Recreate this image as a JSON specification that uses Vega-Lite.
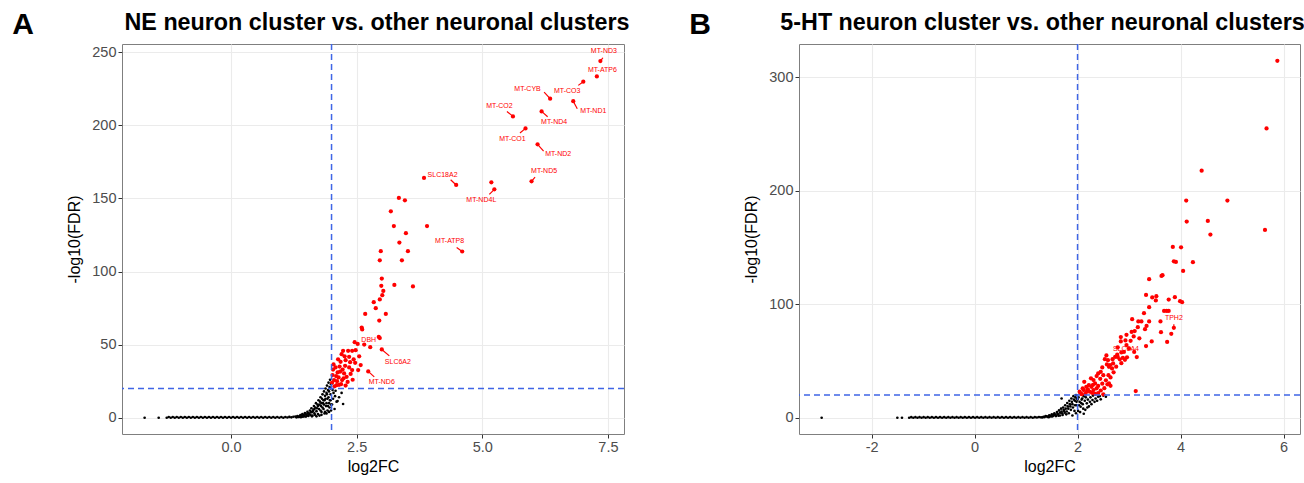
{
"$schema": "https://vega.github.io/schema/vega-lite/v6.json",
"background": "white",
"padding": {"left": 12, "top": 10, "right": 0, "bottom": 0},
"spacing": 59,
"config": {
  "font": "Liberation Sans",
  "view": {"stroke": "#7f7f7f", "strokeWidth": 1},
  "axis": {"grid": true, "gridColor": "#ebebeb", "gridWidth": 1.1, "domain": false, "tickColor": "#333333", "tickSize": 4, "tickWidth": 1, "labelFont": "Liberation Sans", "labelFontSize": 14.5, "labelColor": "#4d4d4d", "labelPadding": 2, "titleFont": "Liberation Sans", "titleFontSize": 16, "titleFontWeight": "normal", "titleColor": "black"},
  "axisX": {"titlePadding": 5},
  "axisY": {"titlePadding": 9}
},
"datasets": {
  "aBlack": [
    {"x":-1.72,"y":0},{"x":-1.44,"y":0},{"x":-1.28,"y":0},{"x":-1.24,"y":0.5},{"x":-1.2,"y":0},{"x":-1.16,"y":0.5},{"x":-1.12,"y":0},{"x":-1.08,"y":0.5},{"x":-1.04,"y":0},{"x":-1,"y":0.5},{"x":-0.96,"y":0},{"x":-0.92,"y":0.5},{"x":-0.88,"y":0},{"x":-0.84,"y":0.5},{"x":-0.8,"y":0},{"x":-0.76,"y":0.5},{"x":-0.72,"y":0},{"x":-0.68,"y":0.5},{"x":-0.64,"y":0},{"x":-0.6,"y":0.5},{"x":-0.56,"y":0},{"x":-0.52,"y":0.5},{"x":-0.48,"y":0},{"x":-0.44,"y":0.5},{"x":-0.4,"y":0},{"x":-0.36,"y":0.5},{"x":-0.32,"y":0},{"x":-0.28,"y":0.5},{"x":-0.24,"y":0},{"x":-0.2,"y":0.5},{"x":-0.16,"y":0},{"x":-0.12,"y":0.5},{"x":-0.08,"y":0},{"x":-0.04,"y":0.5},{"x":0,"y":0},{"x":0.04,"y":0.5},{"x":0.08,"y":0},{"x":0.12,"y":0.5},{"x":0.16,"y":0},{"x":0.2,"y":0.5},{"x":0.24,"y":0},{"x":0.28,"y":0.5},{"x":0.32,"y":0},{"x":0.36,"y":0.5},{"x":0.4,"y":0},{"x":0.44,"y":0.5},{"x":0.48,"y":0},{"x":0.52,"y":0.5},{"x":0.56,"y":0},{"x":0.6,"y":0.5},{"x":0.64,"y":0},{"x":0.68,"y":0.5},{"x":0.72,"y":0},{"x":0.76,"y":0.5},{"x":0.8,"y":0},{"x":0.84,"y":0.5},{"x":0.88,"y":0},{"x":0.92,"y":0.5},{"x":0.96,"y":0},{"x":1,"y":0.5},{"x":1.04,"y":0},{"x":1.08,"y":0.5},{"x":1.12,"y":0.2},{"x":1.16,"y":0.6},{"x":1.2,"y":0.3},{"x":1.24,"y":0.7},
    {"x":1.28,"y":0.8},{"x":1.32,"y":1.2},{"x":1.35,"y":0.5},{"x":1.38,"y":1.8},{"x":1.4,"y":0.9},{"x":1.42,"y":2.5},{"x":1.45,"y":1.5},{"x":1.47,"y":3.2},{"x":1.49,"y":0.8},{"x":1.5,"y":2.2},{"x":1.52,"y":4},{"x":1.54,"y":1.2},{"x":1.55,"y":3},{"x":1.57,"y":5},{"x":1.58,"y":2},{"x":1.6,"y":6.5},{"x":1.61,"y":3.8},{"x":1.62,"y":1.5},{"x":1.64,"y":5.5},{"x":1.65,"y":8},{"x":1.66,"y":3},{"x":1.68,"y":7},{"x":1.69,"y":10},{"x":1.7,"y":4.5},{"x":1.72,"y":9},{"x":1.73,"y":2.5},{"x":1.74,"y":12},{"x":1.75,"y":6},{"x":1.77,"y":11},{"x":1.78,"y":14},{"x":1.79,"y":8},{"x":1.8,"y":4},{"x":1.81,"y":13},{"x":1.82,"y":16},{"x":1.83,"y":10},{"x":1.84,"y":6},{"x":1.85,"y":18},{"x":1.86,"y":12},{"x":1.87,"y":15},{"x":1.88,"y":20},{"x":1.89,"y":8},{"x":1.9,"y":17},{"x":1.91,"y":22},{"x":1.92,"y":13},{"x":1.93,"y":19},{"x":1.94,"y":24},{"x":1.95,"y":10},{"x":1.96,"y":21},{"x":1.97,"y":26},{"x":1.98,"y":16},{"x":1.99,"y":23},{"x":1.86,"y":3},{"x":1.92,"y":5},{"x":1.76,"y":1.5},{"x":1.96,"y":7},{"x":1.98,"y":12},
    {"x":1.3,"y":0.3},{"x":1.33,"y":0.6},{"x":1.36,"y":1},{"x":1.39,"y":0.4},{"x":1.41,"y":1.6},{"x":1.43,"y":0.7},{"x":1.44,"y":2},{"x":1.46,"y":1},{"x":1.48,"y":2.6},{"x":1.51,"y":1.5},{"x":1.53,"y":3},{"x":1.56,"y":2.4},{"x":1.59,"y":4},{"x":1.61,"y":1},{"x":1.63,"y":4.5},{"x":1.66,"y":6},{"x":1.67,"y":2},{"x":1.71,"y":6.5},{"x":1.73,"y":8},{"x":1.76,"y":9},{"x":1.78,"y":5},{"x":1.8,"y":10},{"x":1.82,"y":7},{"x":1.84,"y":12},{"x":1.85,"y":9},{"x":1.87,"y":4},{"x":1.88,"y":13},{"x":1.9,"y":10},{"x":1.91,"y":16},{"x":1.93,"y":8},{"x":1.94,"y":14},{"x":1.95,"y":18},{"x":1.97,"y":12},{"x":1.98,"y":20},{"x":1.99,"y":9},{"x":1.7,"y":1},{"x":1.8,"y":2},{"x":1.9,"y":3},{"x":1.95,"y":4},{"x":1.99,"y":5},
    {"x":2.07,"y":14.8},{"x":2.1,"y":11},{"x":2.23,"y":9.4},{"x":2.12,"y":11.4},{"x":2.01,"y":9.1},{"x":2.04,"y":17},{"x":2.02,"y":19},{"x":2.06,"y":6},{"x":2.15,"y":14},{"x":2.08,"y":18.5},{"x":2.2,"y":17},{"x":2.03,"y":13}
  ],
  "aRed": [
    {"x":7.35,"y":243.9},{"x":7.28,"y":233.4},{"x":7.01,"y":229.8},{"x":6.35,"y":218.2},{"x":6.81,"y":216.5},{"x":5.61,"y":206.1},{"x":6.18,"y":209.5},{"x":5.86,"y":197.9},{"x":6.1,"y":187},{"x":5.98,"y":161.7},{"x":4.48,"y":159.2},{"x":5.24,"y":156.2},{"x":4.6,"y":113.7},{"x":2.65,"y":50.1},{"x":3,"y":46.7},{"x":2.73,"y":31.7},
    {"x":3.84,"y":164},{"x":5.18,"y":161},{"x":3.34,"y":150.3},{"x":3.46,"y":148.7},{"x":3.18,"y":141.2},{"x":3.24,"y":131.1},{"x":3.9,"y":131.1},{"x":3.48,"y":126.2},{"x":3.35,"y":119.8},{"x":2.98,"y":113.9},{"x":3.52,"y":113.9},{"x":2.96,"y":107.7},{"x":3.4,"y":107.7},{"x":3,"y":95.2},{"x":3.25,"y":90.8},{"x":3.62,"y":89.8},{"x":2.99,"y":90.2},{"x":3.03,"y":86.7},{"x":3.01,"y":83.8},{"x":2.96,"y":80.9},{"x":2.84,"y":79},{"x":2.67,"y":71},{"x":2.88,"y":74.9},{"x":3.08,"y":71},{"x":2.95,"y":66.5},{"x":2.6,"y":61.7},{"x":2.61,"y":60.4},{"x":2.46,"y":51.7},{"x":2.52,"y":50.5},{"x":2.77,"y":48.3},{"x":2.94,"y":55.3},{"x":2.96,"y":54.5},{"x":2.23,"y":45.8},{"x":2.33,"y":45.8},{"x":2.41,"y":45.8},{"x":2.48,"y":46.2},{"x":2.35,"y":41.7},{"x":2.28,"y":39.4},{"x":2.18,"y":38.3},{"x":2.08,"y":34.4},{"x":2.35,"y":34.4},{"x":2.41,"y":32.6},{"x":2.53,"y":32.6},{"x":2.47,"y":37.6},{"x":2.02,"y":29.2},{"x":2.05,"y":25.8},{"x":2.1,"y":22.3},{"x":2.14,"y":27.6},{"x":2.25,"y":30.3},{"x":2.21,"y":25.8},{"x":2.12,"y":31},{"x":2.3,"y":28},{"x":2.38,"y":30},{"x":2.16,"y":35},{"x":2.22,"y":33},{"x":2.06,"y":21.5},{"x":2.01,"y":24},{"x":2.19,"y":23},{"x":2.28,"y":22},{"x":2.42,"y":26},{"x":2.44,"y":40},{"x":2.26,"y":42},{"x":2.55,"y":42},{"x":2.58,"y":36},{"x":2.13,"y":40},{"x":2.03,"y":33},
    {"x":2.04,"y":36.5},{"x":2.09,"y":28.5},{"x":2.17,"y":31.5},{"x":2.27,"y":35.5},{"x":2.32,"y":24.5},{"x":2.37,"y":38},{"x":2.2,"y":43.5},{"x":2.11,"y":25},{"x":2.15,"y":22.5},{"x":2.24,"y":27}
  ],
  "aLab": [
    {"gene":"MT-ND3","lx":7.42,"ly":250.5,"x":7.35,"y":243.9,"sx":7.4,"sy":246.2},
    {"gene":"MT-ATP6","lx":7.39,"ly":238,"x":7.28,"y":233.4},
    {"gene":"MT-CO3","lx":6.69,"ly":223.2,"x":7.01,"y":229.8,"sx":6.91,"sy":227.3},
    {"gene":"MT-CYB","lx":5.9,"ly":224.5,"x":6.35,"y":218.2,"sx":6.23,"sy":222.7},
    {"gene":"MT-ND1","lx":7.21,"ly":209.5,"x":6.81,"y":216.5,"sx":6.89,"sy":211.3},
    {"gene":"MT-CO2","lx":5.34,"ly":213.1,"x":5.61,"y":206.1,"sx":5.49,"sy":209.5},
    {"gene":"MT-ND4","lx":6.43,"ly":202,"x":6.18,"y":209.5,"sx":6.3,"sy":205.9},
    {"gene":"MT-CO1","lx":5.6,"ly":190.8,"x":5.86,"y":197.9,"sx":5.75,"sy":194.7},
    {"gene":"MT-ND2","lx":6.51,"ly":180.6,"x":6.1,"y":187,"sx":6.22,"sy":182.4},
    {"gene":"MT-ND5","lx":6.23,"ly":168.7,"x":5.98,"y":161.7,"sx":6.05,"sy":164.6},
    {"gene":"SLC18A2","lx":4.21,"ly":166,"x":4.48,"y":159.2,"sx":4.37,"sy":162.8},
    {"gene":"MT-ND4L","lx":4.98,"ly":149.2,"x":5.24,"y":156.2,"sx":5.14,"sy":152.8},
    {"gene":"MT-ATP8","lx":4.35,"ly":120.9,"x":4.6,"y":113.7,"sx":4.49,"sy":116.4},
    {"gene":"DBH","lx":2.74,"ly":52.9,"x":2.65,"y":50.1},
    {"gene":"SLC6A2","lx":3.32,"ly":38,"x":3,"y":46.7,"sx":3.15,"sy":42.3},
    {"gene":"MT-ND6","lx":3,"ly":24.2,"x":2.73,"y":31.7,"sx":2.85,"sy":28}
  ],
  "bBlack": [
    {"x":-2.97,"y":0},{"x":-1.5,"y":0},{"x":-1.41,"y":0},{"x":-1.27,"y":0},{"x":-1.23,"y":0.5},{"x":-1.19,"y":0},{"x":-1.15,"y":0.5},{"x":-1.11,"y":0},{"x":-1.07,"y":0.5},{"x":-1.03,"y":0},{"x":-0.99,"y":0.5},{"x":-0.95,"y":0},{"x":-0.91,"y":0.5},{"x":-0.87,"y":0},{"x":-0.83,"y":0.5},{"x":-0.79,"y":0},{"x":-0.75,"y":0.5},{"x":-0.71,"y":0},{"x":-0.67,"y":0.5},{"x":-0.63,"y":0},{"x":-0.59,"y":0.5},{"x":-0.55,"y":0},{"x":-0.51,"y":0.5},{"x":-0.47,"y":0},{"x":-0.43,"y":0.5},{"x":-0.39,"y":0},{"x":-0.35,"y":0.5},{"x":-0.31,"y":0},{"x":-0.27,"y":0.5},{"x":-0.23,"y":0},{"x":-0.19,"y":0.5},{"x":-0.15,"y":0},{"x":-0.11,"y":0.5},{"x":-0.07,"y":0},{"x":-0.03,"y":0.5},{"x":0.01,"y":0},{"x":0.05,"y":0.5},{"x":0.09,"y":0},{"x":0.13,"y":0.5},{"x":0.17,"y":0},{"x":0.21,"y":0.5},{"x":0.25,"y":0},{"x":0.29,"y":0.5},{"x":0.33,"y":0},{"x":0.37,"y":0.5},{"x":0.41,"y":0},{"x":0.45,"y":0.5},{"x":0.49,"y":0},{"x":0.53,"y":0.5},{"x":0.57,"y":0},{"x":0.61,"y":0.5},{"x":0.65,"y":0},{"x":0.69,"y":0.5},{"x":0.73,"y":0},{"x":0.77,"y":0.5},{"x":0.81,"y":0},{"x":0.85,"y":0.5},{"x":0.89,"y":0},{"x":0.93,"y":0.5},{"x":0.97,"y":0},{"x":1.01,"y":0.5},{"x":1.05,"y":0},{"x":1.09,"y":0.5},{"x":1.13,"y":0},{"x":1.17,"y":0.5},{"x":1.21,"y":0.2},{"x":1.25,"y":0.6},{"x":1.29,"y":0.4},
    {"x":1.34,"y":0.9},{"x":1.38,"y":1.5},{"x":1.42,"y":0.8},{"x":1.45,"y":2.2},{"x":1.48,"y":1.2},{"x":1.5,"y":3},{"x":1.53,"y":1.8},{"x":1.55,"y":4},{"x":1.57,"y":2.5},{"x":1.6,"y":5},{"x":1.62,"y":3},{"x":1.64,"y":6.5},{"x":1.66,"y":2},{"x":1.68,"y":8},{"x":1.69,"y":17},{"x":1.7,"y":4},{"x":1.72,"y":9},{"x":1.74,"y":6},{"x":1.76,"y":11},{"x":1.78,"y":3},{"x":1.8,"y":13},{"x":1.82,"y":8},{"x":1.84,"y":15},{"x":1.86,"y":10},{"x":1.88,"y":17},{"x":1.9,"y":12},{"x":1.92,"y":19},{"x":1.94,"y":6},{"x":1.95,"y":15},{"x":1.97,"y":20},{"x":1.98,"y":11},{"x":1.99,"y":17},
    {"x":1.32,"y":0.3},{"x":1.36,"y":0.6},{"x":1.4,"y":1.2},{"x":1.44,"y":0.5},{"x":1.47,"y":1.8},{"x":1.51,"y":1.2},{"x":1.54,"y":2.5},{"x":1.58,"y":1.5},{"x":1.61,"y":3.5},{"x":1.63,"y":1.8},{"x":1.66,"y":4.5},{"x":1.69,"y":5.5},{"x":1.71,"y":2.5},{"x":1.73,"y":7},{"x":1.75,"y":4.5},{"x":1.77,"y":8},{"x":1.79,"y":5.5},{"x":1.81,"y":10},{"x":1.83,"y":4},{"x":1.85,"y":12},{"x":1.87,"y":7},{"x":1.89,"y":14},{"x":1.91,"y":9},{"x":1.93,"y":16},{"x":1.95,"y":11},{"x":1.96,"y":18},{"x":1.98,"y":14},{"x":2,"y":16},{"x":2.03,"y":11},{"x":2.07,"y":13},{"x":2.09,"y":17},{"x":2.11,"y":8},{"x":2.14,"y":15},{"x":2.16,"y":18},{"x":2.19,"y":9},{"x":2.24,"y":14},{"x":2.27,"y":12},{"x":2.33,"y":14},{"x":2.38,"y":15},{"x":2.43,"y":19},{"x":2.55,"y":18.5},{"x":1.9,"y":2},{"x":1.97,"y":4},{"x":2.01,"y":6},
    {"x":2.02,"y":18},{"x":2.04,"y":14},{"x":2.06,"y":9.7},{"x":2.08,"y":16},{"x":2.1,"y":12},{"x":2.12,"y":19},{"x":2.15,"y":7},{"x":2.18,"y":12.7},{"x":2.2,"y":16},{"x":2.25,"y":18},{"x":2.29,"y":15.6},{"x":2.35,"y":17},{"x":2.45,"y":16.2},{"x":2.5,"y":19.5},{"x":2.05,"y":5},{"x":2.12,"y":3.5},{"x":2.22,"y":10},{"x":2.3,"y":19.5},{"x":2.4,"y":18.6}
  ],
  "bRed": [
    {"x":5.88,"y":314.3},{"x":5.67,"y":254.8},{"x":4.41,"y":217.6},{"x":4.11,"y":191.2},{"x":4.91,"y":191.2},{"x":4.12,"y":172.7},{"x":4.53,"y":173.3},{"x":4.58,"y":161.3},{"x":5.64,"y":165.4},{"x":3.85,"y":150.4},{"x":4.01,"y":150.1},{"x":3.87,"y":137.8},{"x":3.91,"y":137.2},{"x":4.24,"y":137},{"x":4.05,"y":129.3},{"x":3.63,"y":124.9},{"x":3.65,"y":125.5},{"x":3.39,"y":122},{"x":3.33,"y":108.2},{"x":3.45,"y":105.9},{"x":3.53,"y":107},{"x":3.52,"y":103.3},{"x":3.39,"y":97.4},{"x":3.77,"y":104.1},{"x":3.89,"y":106.2},{"x":3.99,"y":102.6},{"x":4.03,"y":101.8},{"x":3.68,"y":94.1},{"x":3.73,"y":94.1},{"x":3.77,"y":94.1},{"x":3.29,"y":92.1},{"x":3.06,"y":86.8},{"x":3.18,"y":84.8},{"x":3.24,"y":84.8},{"x":3.39,"y":84.8},{"x":3.34,"y":80.9},{"x":3.31,"y":78},{"x":3.61,"y":84.8},{"x":3.62,"y":75.4},{"x":3.82,"y":73.9},{"x":3.87,"y":79.2},{"x":3.17,"y":79.8},{"x":3.11,"y":76.3},{"x":3.05,"y":75.6},{"x":2.95,"y":73},{"x":3.09,"y":71.6},{"x":2.84,"y":71},{"x":2.84,"y":67.2},{"x":2.93,"y":68.1},{"x":3.03,"y":67.7},{"x":3.44,"y":67.2},{"x":3.74,"y":66.8},{"x":3.33,"y":63.1},{"x":2.85,"y":57.5},{"x":2.73,"y":53.6},{"x":2.78,"y":53.6},{"x":2.82,"y":51.5},{"x":2.88,"y":52.8},{"x":2.92,"y":51},{"x":2.96,"y":53.2},{"x":2.77,"y":55.5},{"x":3.15,"y":53.4},{"x":2.56,"y":54.9},{"x":2.53,"y":51.6},{"x":2.59,"y":50.7},{"x":2.57,"y":47},{"x":2.63,"y":46.3},{"x":2.67,"y":43.4},{"x":2.61,"y":44.9},{"x":2.69,"y":47.8},{"x":2.68,"y":51.6},{"x":2.48,"y":44.3},{"x":2.45,"y":40.5},{"x":2.5,"y":37.5},{"x":2.6,"y":37.5},{"x":2.64,"y":35.5},{"x":2.61,"y":30.2},{"x":2.64,"y":28.1},{"x":2.58,"y":29.4},{"x":2.26,"y":34.7},{"x":2.31,"y":33.2},{"x":2.37,"y":36.7},{"x":2.4,"y":39},{"x":2.44,"y":34.3},{"x":2.34,"y":30.2},{"x":2.27,"y":27.3},{"x":2.22,"y":28.8},{"x":2.13,"y":31.7},{"x":2.17,"y":27.3},{"x":2.1,"y":25.9},{"x":2.12,"y":24.4},{"x":2.2,"y":25},{"x":2.24,"y":22.9},{"x":2.18,"y":22.9},{"x":2.31,"y":24.4},{"x":2.37,"y":25.9},{"x":3.13,"y":23.5},{"x":2.34,"y":21},{"x":2.4,"y":21.8},{"x":2.5,"y":20.6},{"x":2.06,"y":21.5},{"x":2.04,"y":23},{"x":2.08,"y":20.8},{"x":2.15,"y":21},{"x":2.28,"y":22},{"x":2.45,"y":24},{"x":2.52,"y":26},{"x":2.48,"y":30},{"x":2.55,"y":33},{"x":2.4,"y":28},{"x":2.3,"y":29},{"x":2.7,"y":40},{"x":2.75,"y":45},{"x":2.85,"y":48},{"x":2.9,"y":58},{"x":2.95,"y":64},{"x":3,"y":61},{"x":3.1,"y":58},{"x":2.78,"y":62},{"x":3.2,"y":70}
  ],
  "bLab": [
    {"gene":"TPH2","lx":3.87,"ly":88,"x":3.87,"y":79.2,"sx":3.87,"sy":82.4},
    {"gene":"SLC6A4","lx":2.94,"ly":60.7,"x":2.85,"y":57.5}
  ]
},
"hconcat": [
  {
    "title": {"text": "A", "anchor": "start", "frame": "bounds", "fontSize": 30, "fontWeight": "bold", "color": "black", "dx": -54, "dy": -2, "offset": -32},
    "hconcat": [
      {
        "width": 502, "height": 390,
        "title": {"text": "NE neuron cluster vs. other neuronal clusters", "anchor": "middle", "frame": "group", "fontSize": 23.3, "fontWeight": "bold", "color": "black", "offset": 8, "dx": 4},
        "encoding": {
          "x": {"field": "x", "type": "quantitative", "title": "log2FC", "scale": {"domain": [-2.17, 7.82], "nice": false, "zero": false}, "axis": {"values": [0, 2.5, 5, 7.5], "format": ".1f"}},
          "y": {"field": "y", "type": "quantitative", "title": "-log10(FDR)", "scale": {"domain": [-11.1, 255.6], "nice": false, "zero": false}, "axis": {"values": [0, 50, 100, 150, 200, 250]}}
        },
        "layer": [
          {"data": {"name": "aBlack"}, "mark": {"type": "circle", "color": "black", "size": 7, "opacity": 1}},
          {"data": {"name": "aRed"}, "mark": {"type": "circle", "color": "#ff0000", "size": 18, "opacity": 1}},
          {"data": {"values": [{"t": 20}]}, "mark": {"type": "rule", "color": "#3f66e6", "strokeDash": [6, 4], "strokeWidth": 1.5}, "encoding": {"x": null, "y": {"field": "t", "type": "quantitative"}}},
          {"data": {"values": [{"t": 2}]}, "mark": {"type": "rule", "color": "#3f66e6", "strokeDash": [6, 4], "strokeWidth": 1.5}, "encoding": {"y": null, "x": {"field": "t", "type": "quantitative"}}},
          {"data": {"name": "aLab"}, "transform": [{"filter": "isValid(datum.sx)"}], "mark": {"type": "rule", "color": "#ff0000", "strokeWidth": 1.2}, "encoding": {"x2": {"field": "sx"}, "y2": {"field": "sy"}}},
          {"data": {"name": "aLab"}, "mark": {"type": "text", "color": "#ff0000", "fontSize": 7, "font": "Liberation Sans"}, "encoding": {"x": {"field": "lx", "type": "quantitative"}, "y": {"field": "ly", "type": "quantitative"}, "text": {"field": "gene"}}}
        ]
      }
    ]
  },
  {
    "title": {"text": "B", "anchor": "start", "frame": "bounds", "fontSize": 30, "fontWeight": "bold", "color": "black", "dx": -54, "dy": -2, "offset": -32},
    "hconcat": [
      {
        "width": 501, "height": 390,
        "title": {"text": "5-HT neuron cluster vs. other neuronal clusters", "anchor": "middle", "frame": "group", "fontSize": 23.3, "fontWeight": "bold", "color": "black", "offset": 8, "dx": -7},
        "encoding": {
          "x": {"field": "x", "type": "quantitative", "title": "log2FC", "scale": {"domain": [-3.41, 6.32], "nice": false, "zero": false}, "axis": {"values": [-2, 0, 2, 4, 6], "labelExpr": "'' + datum.value"}},
          "y": {"field": "y", "type": "quantitative", "title": "-log10(FDR)", "scale": {"domain": [-14.3, 329.1], "nice": false, "zero": false}, "axis": {"values": [0, 100, 200, 300]}}
        },
        "layer": [
          {"data": {"name": "bBlack"}, "mark": {"type": "circle", "color": "black", "size": 7, "opacity": 1}},
          {"data": {"name": "bRed"}, "mark": {"type": "circle", "color": "#ff0000", "size": 18, "opacity": 1}},
          {"data": {"values": [{"t": 20}]}, "mark": {"type": "rule", "color": "#3f66e6", "strokeDash": [6, 4], "strokeWidth": 1.5}, "encoding": {"x": null, "y": {"field": "t", "type": "quantitative"}}},
          {"data": {"values": [{"t": 2}]}, "mark": {"type": "rule", "color": "#3f66e6", "strokeDash": [6, 4], "strokeWidth": 1.5}, "encoding": {"y": null, "x": {"field": "t", "type": "quantitative"}}},
          {"data": {"name": "bLab"}, "transform": [{"filter": "isValid(datum.sx)"}], "mark": {"type": "rule", "color": "#ff0000", "strokeWidth": 1.2}, "encoding": {"x2": {"field": "sx"}, "y2": {"field": "sy"}}},
          {"data": {"name": "bLab"}, "mark": {"type": "text", "color": "#ff0000", "fontSize": 7, "font": "Liberation Sans"}, "encoding": {"x": {"field": "lx", "type": "quantitative"}, "y": {"field": "ly", "type": "quantitative"}, "text": {"field": "gene"}}}
        ]
      }
    ]
  }
]
}
